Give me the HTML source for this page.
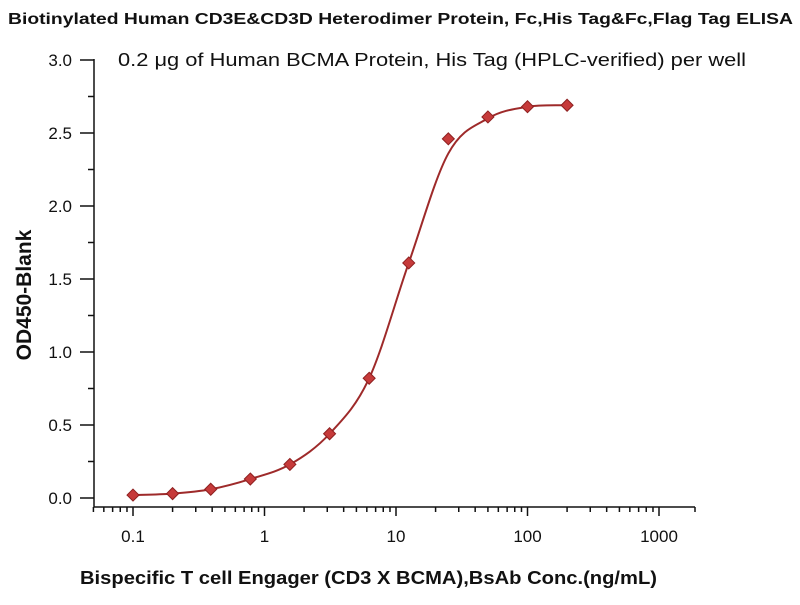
<!DOCTYPE html>
<html><head><meta charset="utf-8"><style>
body{margin:0;background:#fff;}
text{font-family:"Liberation Sans",sans-serif;}
</style></head><body>
<svg id="s" width="800" height="600" xmlns="http://www.w3.org/2000/svg">
<text x="8" y="24" textLength="785" lengthAdjust="spacingAndGlyphs" font-size="16" font-weight="bold" fill="#111">Biotinylated Human CD3E&amp;CD3D Heterodimer Protein, Fc,His Tag&amp;Fc,Flag Tag ELISA</text>
<text x="118" y="66" textLength="628" lengthAdjust="spacingAndGlyphs" font-size="18" fill="#111">0.2 μg of Human BCMA Protein, His Tag (HPLC-verified)  per well</text>
<text transform="translate(31,295) rotate(-90)" text-anchor="middle" font-size="21" font-weight="bold" fill="#111">OD450-Blank</text>
<text x="80" y="584" textLength="577" lengthAdjust="spacingAndGlyphs" font-size="18" font-weight="bold" fill="#111">Bispecific T cell Engager (CD3 X BCMA),BsAb Conc.(ng/mL)</text>
<g id="ax" stroke="#111" stroke-width="1.5" fill="none"></g>
<g id="lab" font-size="17" fill="#111"></g>
<path id="cv" fill="none" stroke="#9e2a2a" stroke-width="2"/>
<g id="pts" fill="#c63a3a" stroke="#8e2020" stroke-width="1"></g>
</svg>
<script>
var ns="http://www.w3.org/2000/svg";
function X(c){return 133+131.5*Math.log10(c/0.1);}
function Y(v){return 498-v*146;}
function el(p,t,a,txt){var e=document.createElementNS(ns,t);for(var k in a)e.setAttribute(k,a[k]);if(txt)e.textContent=txt;document.getElementById(p).appendChild(e);}
el('ax','line',{x1:94,y1:59,x2:94,y2:507});
el('ax','line',{x1:94,y1:507,x2:695,y2:507});
for(var i=0;i<=12;i++){var v=i*0.25,y=Y(v);el('ax','line',{x1:i%2?88:80,y1:y,x2:94,y2:y});}
for(var i=0;i<=6;i++){el('lab','text',{x:72,y:Y(i*0.5)+6,'text-anchor':'end'},(i*0.5).toFixed(1));}
var decs=[0.01,0.1,1,10,100,1000];
for(var d=0;d<decs.length;d++)for(var m=1;m<10;m++){var c=decs[d]*m,x=X(c);if(x<93||x>696)continue;el('ax','line',{x1:x,y1:507,x2:x,y2:m==1?516:512});}
el('ax','line',{x1:695,y1:507,x2:695,y2:512});
[["0.1",0.1],["1",1],["10",10],["100",100],["1000",1000]].forEach(function(a){el('lab','text',{x:X(a[1]),y:542,'text-anchor':'middle'},a[0]);});
var cs=[0.1,0.2,0.39,0.78,1.56,3.125,6.25,12.5,25,50,100,200];
var vs=[0.02,0.03,0.06,0.13,0.23,0.44,0.82,1.61,2.46,2.61,2.68,2.69];
var cvv=vs.slice();cvv[8]=2.36;cvv[9]=2.60;
var P=cs.map(function(c,i){return[X(c),Y(cvv[i])];});
var d="M"+P[0][0]+","+P[0][1];
for(var i=0;i<P.length-1;i++){var p0=P[Math.max(i-1,0)],p1=P[i],p2=P[i+1],p3=P[Math.min(i+2,P.length-1)];
d+=" C"+(p1[0]+(p2[0]-p0[0])/6)+","+(p1[1]+(p2[1]-p0[1])/6)+" "+(p2[0]-(p3[0]-p1[0])/6)+","+(p2[1]-(p3[1]-p1[1])/6)+" "+p2[0]+","+p2[1];}
document.getElementById('cv').setAttribute('d',d);
cs.forEach(function(c,i){var x=X(c),y=Y(vs[i]);el('pts','path',{d:"M"+x+","+(y-6)+" L"+(x+6)+","+y+" L"+x+","+(y+6)+" L"+(x-6)+","+y+"Z"});});
</script>
</body></html>
